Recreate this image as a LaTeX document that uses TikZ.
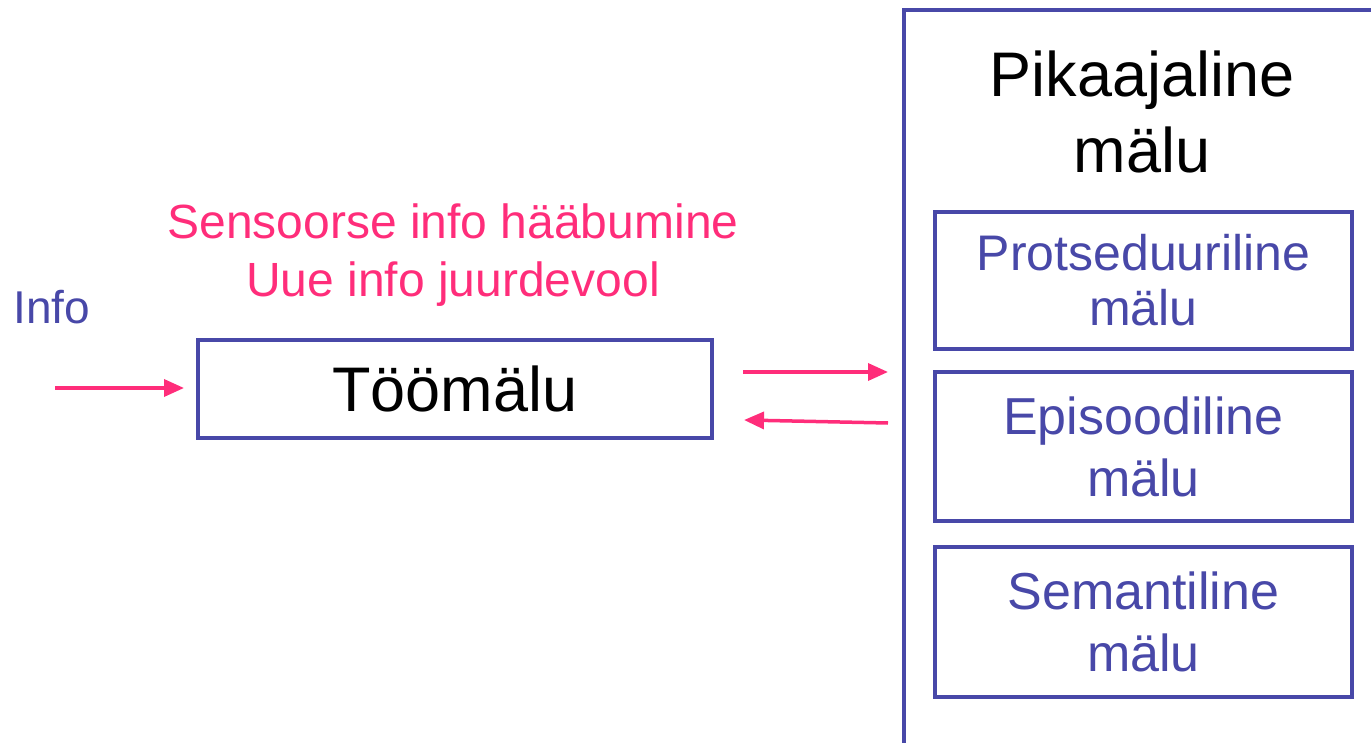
\documentclass[tikz,border=0pt]{standalone}
\usepackage{fontspec}
\setmainfont{Liberation Sans}
\usetikzlibrary{arrows.meta}
\definecolor{boxblue}{RGB}{72,72,168}
\definecolor{hotpink}{RGB}{255,45,122}
\begin{document}
\begin{tikzpicture}[x=1pt,y=-1pt,
  frame/.style={draw=boxblue,line width=4.5pt},
  arr/.style={draw=hotpink,line width=3.5pt,-{Triangle[length=20pt,width=17pt]}},
  bigtxt/.style={font=\fontsize{63}{76}\selectfont,align=center},
  subtxt/.style={font=\fontsize{52}{62}\selectfont,text=boxblue,align=center},
  pinktxt/.style={font=\fontsize{48}{58}\selectfont,text=hotpink,align=center}]
\useasboundingbox (0,0) rectangle (1371,743);
% big long-term memory box (extends past the right and bottom edges)
\draw[frame] (1400,10) -- (904,10) -- (904,760);
\node[bigtxt,anchor=center] (pika) at (1142,112) {Pikaajaline\\mälu};
% sub boxes
\node[frame,minimum width=417pt,minimum height=137pt,inner sep=0pt] (prot) at (1143.5,280.5) {};
\node[subtxt,font=\fontsize{50}{55}\selectfont] (prott) at (prot.center) {Protseduuriline\\mälu};
\node[frame,minimum width=417pt,minimum height=149pt,inner sep=0pt] (epi) at (1143.5,446.5) {};
\node[subtxt] (epit) at (epi.center) {Episoodiline\\mälu};
\node[frame,minimum width=417pt,minimum height=150pt,inner sep=0pt] (sem) at (1143.5,622) {};
\node[subtxt] (semt) at (sem.center) {Semantiline\\mälu};
% working memory
\node[frame,minimum width=514pt,minimum height=98pt,inner sep=0pt] (too) at (455,389) {};
\node[bigtxt] (toot) at (too.center) {Töömälu};
% labels
\node[pinktxt] (sens) at (453,255) {Sensoorse info hääbumine\\Uue info juurdevool};
\node[font=\fontsize{46}{50}\selectfont,text=boxblue,anchor=west] (info) at (10,307) {Info};
% arrows
\coordinate (a1s) at (55,388);
\coordinate (a1e) at (184,388);
\draw[arr] (a1s) -- (a1e);
\coordinate (a2s) at (743,372);
\coordinate (a2e) at (888,372);
\draw[arr] (a2s) -- (a2e);
\coordinate (a3s) at (888,423);
\coordinate (a3e) at (744,420);
\draw[arr] (a3s) -- (a3e);
\end{tikzpicture}
\end{document}
